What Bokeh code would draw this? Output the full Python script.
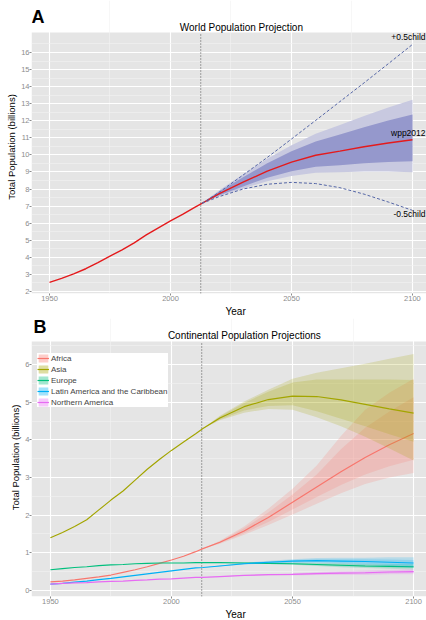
from bokeh.plotting import figure
from bokeh.models import Range1d, FixedTicker, Label, Legend, LegendItem, Title
from bokeh.layouts import column
from bokeh.embed import file_html
from bokeh.resources import INLINE
from bokeh.core.properties import value

FONT = "Liberation Sans"

# ---------------- data ----------------
hist_years = [1950, 1955, 1960, 1965, 1970, 1975, 1980, 1985, 1990, 1995, 2000, 2005, 2010, 2013]
proj_years = [2013, 2020, 2030, 2040, 2050, 2060, 2070, 2080, 2090, 2100]
base_year = 2012.5

# Panel A: world
world_hist = [2.53, 2.77, 3.03, 3.33, 3.69, 4.07, 4.44, 4.85, 5.31, 5.73, 6.13, 6.51, 6.92, 7.16]
world_med = [7.16, 7.72, 8.40, 9.05, 9.58, 9.98, 10.22, 10.48, 10.70, 10.89]
world_hi95 = [7.16, 7.91, 8.86, 9.78, 10.57, 11.24, 11.75, 12.28, 12.77, 13.23]
world_hi80 = [7.16, 7.84, 8.69, 9.51, 10.21, 10.78, 11.19, 11.62, 12.01, 12.37]
world_lo80 = [7.16, 7.62, 8.15, 8.66, 9.04, 9.30, 9.39, 9.51, 9.58, 9.63]
world_lo95 = [7.16, 7.57, 8.03, 8.46, 8.77, 8.95, 8.98, 9.02, 9.02, 8.99]
world_plus = [7.16, 7.80, 8.82, 9.85, 10.93, 12.02, 13.12, 14.22, 15.34, 16.47]
world_minus = [7.16, 7.55, 8.00, 8.28, 8.39, 8.32, 8.08, 7.70, 7.24, 6.75]

# Panel B: continents
continents = ["Africa", "Asia", "Europe", "Latin America and the Caribbean", "Northern America"]
colors = ["#F8766D", "#A3A500", "#00BF7D", "#00B0F6", "#E76BF3"]
cont_hist = {
    "Africa": [0.23, 0.25, 0.28, 0.32, 0.36, 0.41, 0.48, 0.55, 0.63, 0.72, 0.81, 0.91, 1.03, 1.11],
    "Asia": [1.40, 1.54, 1.70, 1.88, 2.14, 2.40, 2.64, 2.93, 3.22, 3.48, 3.72, 3.94, 4.16, 4.30],
    "Europe": [0.55, 0.58, 0.61, 0.63, 0.66, 0.68, 0.69, 0.71, 0.72, 0.73, 0.73, 0.73, 0.74, 0.74],
    "Latin America and the Caribbean": [0.17, 0.19, 0.22, 0.25, 0.29, 0.32, 0.36, 0.40, 0.44, 0.48, 0.52, 0.56, 0.60, 0.61],
    "Northern America": [0.17, 0.19, 0.20, 0.21, 0.23, 0.24, 0.25, 0.27, 0.28, 0.30, 0.31, 0.33, 0.35, 0.35],
}
cont_med = {
    "Africa": [1.11, 1.28, 1.58, 1.94, 2.34, 2.75, 3.15, 3.53, 3.87, 4.17],
    "Asia": [4.30, 4.58, 4.88, 5.07, 5.16, 5.15, 5.06, 4.94, 4.82, 4.71],
    "Europe": [0.74, 0.74, 0.73, 0.72, 0.71, 0.69, 0.67, 0.65, 0.64, 0.63],
    "Latin America and the Caribbean": [0.61, 0.65, 0.71, 0.75, 0.78, 0.79, 0.78, 0.77, 0.75, 0.73],
    "Northern America": [0.35, 0.37, 0.40, 0.42, 0.43, 0.45, 0.46, 0.47, 0.49, 0.50],
}
cont_hi95 = {
    "Africa": [1.11, 1.32, 1.70, 2.17, 2.70, 3.32, 4.10, 4.80, 5.25, 5.62],
    "Asia": [4.30, 4.64, 5.02, 5.33, 5.62, 5.78, 5.90, 6.02, 6.15, 6.28],
    "Europe": [0.74, 0.745, 0.745, 0.74, 0.74, 0.73, 0.72, 0.71, 0.70, 0.70],
    "Latin America and the Caribbean": [0.61, 0.66, 0.73, 0.79, 0.83, 0.86, 0.87, 0.87, 0.88, 0.88],
    "Northern America": [0.35, 0.375, 0.41, 0.44, 0.46, 0.49, 0.51, 0.53, 0.55, 0.57],
}
cont_hi80 = {
    "Africa": [1.11, 1.30, 1.65, 2.07, 2.55, 3.08, 3.75, 4.32, 4.75, 5.13],
    "Asia": [4.30, 4.62, 4.98, 5.28, 5.52, 5.60, 5.60, 5.60, 5.60, 5.59],
    "Europe": [0.74, 0.742, 0.74, 0.73, 0.725, 0.71, 0.695, 0.68, 0.67, 0.665],
    "Latin America and the Caribbean": [0.61, 0.655, 0.72, 0.77, 0.81, 0.83, 0.83, 0.83, 0.82, 0.81],
    "Northern America": [0.35, 0.372, 0.405, 0.43, 0.445, 0.47, 0.485, 0.50, 0.52, 0.535],
}
cont_lo80 = {
    "Africa": [1.11, 1.26, 1.52, 1.82, 2.15, 2.48, 2.80, 3.08, 3.30, 3.47],
    "Asia": [4.30, 4.54, 4.78, 4.90, 4.92, 4.76, 4.56, 4.36, 4.15, 3.95],
    "Europe": [0.74, 0.738, 0.72, 0.71, 0.695, 0.67, 0.645, 0.625, 0.61, 0.595],
    "Latin America and the Caribbean": [0.61, 0.645, 0.70, 0.73, 0.75, 0.75, 0.73, 0.71, 0.68, 0.66],
    "Northern America": [0.35, 0.368, 0.395, 0.41, 0.415, 0.43, 0.435, 0.44, 0.46, 0.465],
}
cont_lo95 = {
    "Africa": [1.11, 1.24, 1.48, 1.74, 2.02, 2.30, 2.58, 2.83, 3.00, 3.12],
    "Asia": [4.30, 4.52, 4.72, 4.82, 4.80, 4.60, 4.36, 4.08, 3.77, 3.45],
    "Europe": [0.74, 0.735, 0.715, 0.70, 0.68, 0.65, 0.62, 0.60, 0.58, 0.56],
    "Latin America and the Caribbean": [0.61, 0.64, 0.69, 0.72, 0.73, 0.72, 0.70, 0.67, 0.64, 0.61],
    "Northern America": [0.35, 0.365, 0.39, 0.40, 0.40, 0.41, 0.41, 0.41, 0.43, 0.43],
}

x_ticks = [1950, 2000, 2050, 2100]
x_minor = [1975, 2025, 2075]
a_yticks = list(range(2, 17))
a_yminor = [v + 0.5 for v in range(2, 17)]
b_yticks = list(range(0, 7))
b_yminor = [v + 0.5 for v in range(0, 7)]

# panel (grey area) extents and frame extents
A_X = (1942.56, 2105.8)
A_PANEL_Y = (1.88, 17.17)
A_FRAME_TOP = 19.045
B_X = (1942.19, 2105.34)
B_PANEL_Y = (-0.16, 6.61)
B_FRAME_TOP = 7.222


def style(p, xr, py, yt, ym):
    p.background_fill_color = "white"
    p.border_fill_color = "white"
    p.outline_line_color = None
    p.quad(left=[xr[0]], right=[xr[1]], bottom=[py[0]], top=[py[1]],
           fill_color="#E5E5E5", line_color=None, level="image")
    p.xaxis.ticker = FixedTicker(ticks=x_ticks, minor_ticks=x_minor)
    p.yaxis.ticker = FixedTicker(ticks=yt, minor_ticks=ym)
    for g in (p.xgrid, p.ygrid):
        g.grid_line_color = "white"
        g.grid_line_width = 1.1
        g.minor_grid_line_color = "#F2F2F2"
        g.minor_grid_line_width = 0.6
    for ax in (p.xaxis, p.yaxis):
        ax.axis_line_color = None
        ax.major_tick_line_color = "#8a8a8a"
        ax.major_tick_in = 0
        ax.major_tick_out = 2
        ax.minor_tick_in = 0
        ax.minor_tick_out = 0
        ax.major_label_text_font = FONT
        ax.major_label_text_font_size = "7.5px"
        ax.major_label_text_color = "#8c8c8c"
        ax.major_label_standoff = 0
    p.yaxis.axis_label = "Total Population (billions)"
    p.yaxis.axis_label_text_font = FONT
    p.yaxis.axis_label_text_font_size = "9.5px"
    p.yaxis.axis_label_text_font_style = "normal"
    p.yaxis.axis_label_text_color = "black"
    p.yaxis.axis_label_standoff = 1
    p.add_layout(Title(text="Year", align="left", offset=194, standoff=0, text_font=FONT,
                       text_font_size="10px", text_font_style="normal", text_color="black"), "below")
    # vertical dotted marker of the base year, inside the panel
    p.line(x=[base_year, base_year], y=[py[0], py[1]], line_color="#444444",
           line_width=0.9, line_dash="1 2")


def lab(p, x, y, text, size="10px", bold=False):
    p.add_layout(Label(x=x, y=y, text=text, text_align="center", text_baseline="middle",
                       text_font=FONT, text_font_size=size,
                       text_font_style="bold" if bold else "normal", text_color="black"))


# ---------------- Panel A ----------------
pA = figure(width=426, height=318, output_backend="svg", toolbar_location=None,
            x_range=Range1d(*A_X), y_range=Range1d(A_PANEL_Y[0], A_FRAME_TOP),
            min_border_left=31, min_border_right=0, min_border_top=0, min_border_bottom=25)
style(pA, A_X, A_PANEL_Y, a_yticks, a_yminor)

pA.varea(x=proj_years, y1=world_lo95, y2=world_hi95, fill_color="#C8C9E0", fill_alpha=1)
pA.varea(x=proj_years, y1=world_lo80, y2=world_hi80, fill_color="#9598CC", fill_alpha=1)
pA.line(hist_years + proj_years[1:], world_hist + world_med[1:], line_color="#E41A1C", line_width=1.4)
pA.line(proj_years, world_plus, line_color="#5566A6", line_width=1, line_dash="3 2")
pA.line(proj_years, world_minus, line_color="#5566A6", line_width=1, line_dash="3 2")
txt = dict(text_align="right", text_baseline="middle", text_font=value(FONT),
           text_font_size="8.5px", text_color="black")
lx = A_X[1] - 0.4
pA.text(x=[lx], y=[world_plus[-1] + 0.43], text=["+0.5child"], **txt)
pA.text(x=[lx], y=[world_med[-1] + 0.38], text=["wpp2012"], **txt)
pA.text(x=[lx], y=[world_minus[-1] - 0.2], text=["-0.5child"], **txt)

lab(pA, 1945.25, 18.08, "A", size="18px", bold=True)
lab(pA, 2029.3, 17.46, "World Population Projection", size="10px")

# ---------------- Panel B ----------------
pB = figure(width=426, height=302, output_backend="svg", toolbar_location=None,
            x_range=Range1d(*B_X), y_range=Range1d(B_PANEL_Y[0], B_FRAME_TOP),
            min_border_left=29, min_border_right=0, min_border_top=0, min_border_bottom=24)
style(pB, B_X, B_PANEL_Y, b_yticks, b_yminor)

items = []
for name, col in zip(continents, colors):
    r1 = pB.varea(x=proj_years, y1=cont_lo95[name], y2=cont_hi95[name], fill_color=col, fill_alpha=0.2)
    r2 = pB.varea(x=proj_years, y1=cont_lo80[name], y2=cont_hi80[name], fill_color=col, fill_alpha=0.2)
    r3 = pB.line(hist_years + proj_years[1:], cont_hist[name] + cont_med[name][1:],
                 line_color=col, line_width=1.2)
    items.append(LegendItem(label=name, renderers=[r1, r2, r3]))

# legend anchored by its bottom-left corner, in px from the frame's bottom-left
leg = Legend(items=items, location=(6, 189), margin=0, padding=3, spacing=1,
             glyph_height=10, glyph_width=12, label_height=10, label_standoff=2,
             label_text_font=FONT, label_text_font_size="8px", border_line_color=None,
             background_fill_color="white", background_fill_alpha=1)
pB.add_layout(leg)

lab(pB, 1945.68, 7.0, "B", size="18px", bold=True)
lab(pB, 2030.1, 6.772, "Continental Population Projections", size="10px")

layout = column(pA, pB, spacing=0)
open("out.html", "w").write(file_html(layout, INLINE))
